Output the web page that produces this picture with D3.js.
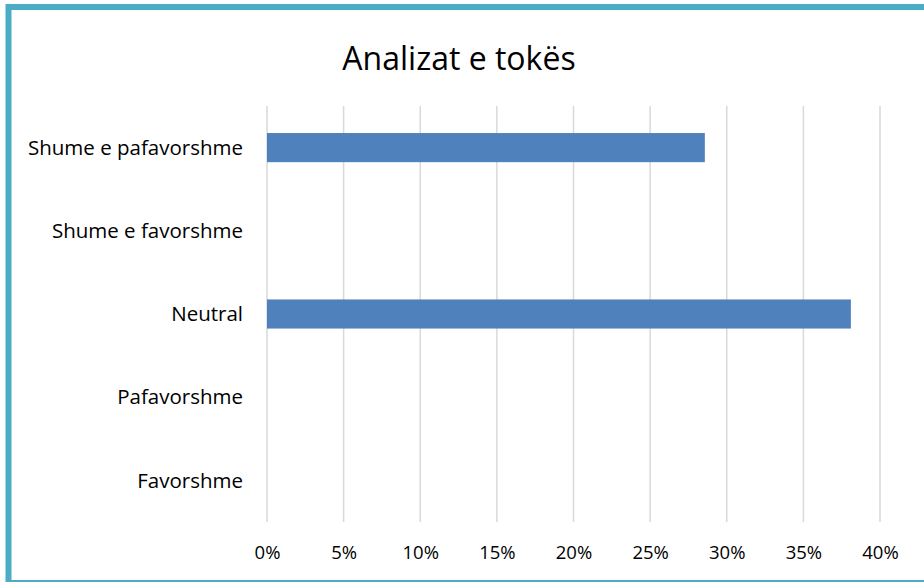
<!DOCTYPE html>
<html>
<head>
<meta charset="utf-8">
<script src="https://cdn.jsdelivr.net/npm/d3@7"></script>
<style>
  body { margin: 0; background: #fff; }
  svg text { fill: #000; }
</style>
</head>
<body>
<script>
var width = 924;
var height = 582;

var categories = ["Shume e pafavorshme", "Shume e favorshme", "Neutral", "Pafavorshme", "Favorshme"];
var values = [0.2857, 0, 0.381, 0, 0];
var tickValues = [0, 0.05, 0.10, 0.15, 0.20, 0.25, 0.30, 0.35, 0.40];
var title = "Analizat e tokës";

var svg = d3.select("body")
            .append("svg")
            .attr("width", width)
            .attr("height", height);

// frame of the chart area
svg.append("rect")
    .attr("x", 0).attr("y", 0)
    .attr("width", width).attr("height", height)
    .style("fill", "#fff");
svg.append("path")
    .attr("d", "M8.5," + (height + 5) + " V7 H" + (width + 5))
    .style("fill", "none")
    .style("stroke", "#4bacc6")
    .style("stroke-width", 6);
svg.append("line")
    .attr("x1", 8).attr("x2", width)
    .attr("y1", 581).attr("y2", 581)
    .style("stroke", "#4bacc6")
    .style("stroke-width", 2);

var x = d3.scaleLinear().domain([0, 0.40]).range([267, 880]);
var y = d3.scaleBand().domain(categories).range([106, 522]).paddingInner(0.65).paddingOuter(0.325);

// gridlines
svg.selectAll(".grid")
    .data(tickValues)
    .enter()
    .append("line")
    .attr("class", "grid")
    .attr("x1", function(d) {return x(d); })
    .attr("x2", function(d) {return x(d); })
    .attr("y1", 106)
    .attr("y2", 522)
    .style("stroke", "#d9d9d9")
    .style("stroke-width", 1.5);

// bars
svg.selectAll(".bar")
    .data(values)
    .enter()
    .append("rect")
    .attr("class", "bar")
    .attr("x", x(0))
    .attr("y", function(d, i) {return y(categories[i]); })
    .attr("width", function(d) {return x(d) - x(0); })
    .attr("height", y.bandwidth())
    .style("fill", "#4f81bd");

// x axis labels
var xAxis = d3.axisBottom(x)
    .tickValues(tickValues)
    .tickFormat(d3.format(".0%"))
    .tickSize(0)
    .tickPadding(0);
var gx = svg.append("g")
    .attr("transform", "translate(0,546)")
    .call(xAxis);
gx.select(".domain").remove();
gx.selectAll("text")
    .style("font-size", "18.5px")
    .style("font-family", "'Open Sans', sans-serif")
    .attr("dy", "0.72em");

// y axis labels
var yAxis = d3.axisLeft(y).tickSize(0).tickPadding(0);
var gy = svg.append("g")
    .attr("transform", "translate(243,0)")
    .call(yAxis);
gy.select(".domain").remove();
gy.selectAll("text")
    .style("font-size", "20.5px")
    .style("font-family", "'Open Sans', sans-serif")
    .attr("dy", "0.35em");

// title
svg.append("text")
    .attr("x", 459)
    .attr("y", 70)
    .attr("text-anchor", "middle")
    .style("font-size", "32px")
    .style("font-family", "'Open Sans', sans-serif")
    .text(title);
</script>
</body>
</html>
